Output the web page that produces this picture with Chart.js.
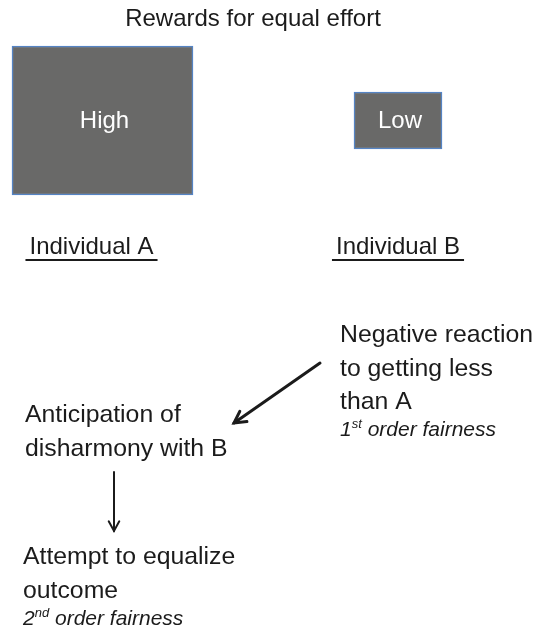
<!DOCTYPE html>
<html>
<head>
<meta charset="utf-8">
<script src="https://cdn.jsdelivr.net/npm/chart.js@4.4.1/dist/chart.umd.min.js"></script>
<style>
  html, body { margin: 0; padding: 0; background: #ffffff; }
  canvas { display: block; }
</style>
</head>
<body>
<canvas id="fairnessChart" width="540" height="630"></canvas>
<script>
// Data
const individuals = ['Individual A', 'Individual B'];
const rewardLabels = ['High', 'Low'];
const rewardSizes = [149, 57];
const chartTitle = 'Rewards for equal effort';
const reactionLines = ['Negative reaction', 'to getting less', 'than A'];
const anticipationLines = ['Anticipation of', 'disharmony with B'];
const attemptLines = ['Attempt to equalize', 'outcome'];
const fairnessNotes = [['1', 'st', ' order fairness'], ['2', 'nd', ' order fairness']];

// Layout (scale units = canvas pixels)
const boxCenters = [102.5, 398];
const boxWidths = [181, 88];
const boxLevel = 120.5;
const labelNudge = [-11, 0];
const FONT = '"Liberation Sans", Arial, Helvetica, sans-serif';
const FLOW_FONT = '24.8px ' + FONT;
const INK = '#1b1b1b';

const datasets = individuals.map(function (name, i) {
    return {
        label: name,
        data: [{ x: boxCenters[i], y: [boxLevel - rewardSizes[i] / 2, boxLevel + rewardSizes[i] / 2] }],
        backgroundColor: '#696968',
        borderColor: '#5584c4',
        borderWidth: 1.5,
        borderSkipped: false,
        barThickness: boxWidths[i],
        grouped: false
    };
});

function textAt(ctx, chart, str, x, y, font, align) {
    const sx = chart.scales.x, sy = chart.scales.y;
    ctx.font = font;
    ctx.textAlign = align || 'left';
    ctx.textBaseline = 'alphabetic';
    ctx.fillText(str, sx.getPixelForValue(x), sy.getPixelForValue(y));
}

function noteAt(ctx, chart, parts, x, y) {
    let px = chart.scales.x.getPixelForValue(x);
    const py = chart.scales.y.getPixelForValue(y);
    ctx.textAlign = 'left';
    ctx.textBaseline = 'alphabetic';
    ctx.font = 'italic 21px ' + FONT;
    ctx.fillText(parts[0], px, py);
    px += ctx.measureText(parts[0]).width;
    ctx.font = 'italic 13px ' + FONT;
    ctx.fillText(parts[1], px, py - 8);
    px += ctx.measureText(parts[1]).width;
    ctx.font = 'italic 21px ' + FONT;
    ctx.fillText(parts[2], px, py);
}

function arrow(ctx, chart, x1, y1, x2, y2, width, head) {
    const sx = chart.scales.x, sy = chart.scales.y;
    const ax = sx.getPixelForValue(x1), ay = sy.getPixelForValue(y1);
    const bx = sx.getPixelForValue(x2), by = sy.getPixelForValue(y2);
    const ang = Math.atan2(by - ay, bx - ax);
    ctx.strokeStyle = INK;
    ctx.lineWidth = width;
    ctx.lineCap = 'round';
    ctx.lineJoin = 'miter';
    ctx.beginPath();
    ctx.moveTo(ax, ay);
    ctx.lineTo(bx, by);
    ctx.stroke();
    ctx.beginPath();
    ctx.moveTo(bx - head * Math.cos(ang - 0.5), by - head * Math.sin(ang - 0.5));
    ctx.lineTo(bx, by);
    ctx.lineTo(bx - head * Math.cos(ang + 0.5), by - head * Math.sin(ang + 0.5));
    ctx.stroke();
}

const diagramText = {
    id: 'diagramText',
    afterDatasetsDraw(chart) {
        const ctx = chart.ctx;
        const sx = chart.scales.x;
        ctx.save();
        ctx.fillStyle = INK;
        textAt(ctx, chart, chartTitle, 253, 26, '24px ' + FONT, 'center');

        // labels inside the boxes
        chart.data.datasets.forEach(function (ds, i) {
            const bar = chart.getDatasetMeta(i).data[0];
            ctx.fillStyle = '#ffffff';
            ctx.font = '24px ' + FONT;
            ctx.textAlign = 'center';
            ctx.textBaseline = 'middle';
            ctx.fillText(rewardLabels[i], bar.x + 2, (bar.y + bar.base) / 2 + 1);
        });

        // individual names, underlined
        ctx.fillStyle = INK;
        individuals.forEach(function (name, i) {
            const cx = boxCenters[i] + labelNudge[i];
            textAt(ctx, chart, name, cx, 254, '24px ' + FONT, 'center');
            const w = ctx.measureText(name).width;
            const y = chart.scales.y.getPixelForValue(260);
            ctx.strokeStyle = INK;
            ctx.lineWidth = 2;
            ctx.beginPath();
            ctx.moveTo(sx.getPixelForValue(cx) - w / 2 - 4, y);
            ctx.lineTo(sx.getPixelForValue(cx) + w / 2 + 4, y);
            ctx.stroke();
        });

        reactionLines.forEach(function (line, i) {
            textAt(ctx, chart, line, 340, 342 + i * 33.5, FLOW_FONT);
        });
        noteAt(ctx, chart, fairnessNotes[0], 340, 436);

        anticipationLines.forEach(function (line, i) {
            textAt(ctx, chart, line, 25, 422 + i * 34, FLOW_FONT);
        });

        attemptLines.forEach(function (line, i) {
            textAt(ctx, chart, line, 23, 564 + i * 34, FLOW_FONT);
        });
        noteAt(ctx, chart, fairnessNotes[1], 23, 625);

        arrow(ctx, chart, 320, 363, 234, 423, 3, 13);
        arrow(ctx, chart, 114, 472, 114, 531, 2, 11);
        ctx.restore();
    }
};

new Chart(document.getElementById('fairnessChart').getContext('2d'), {
    type: 'bar',
    data: { datasets: datasets },
    options: {
        responsive: false,
        animation: false,
        layout: { padding: 0 },
        scales: {
            x: { type: 'linear', min: 0, max: 540, offset: false, display: false },
            y: { type: 'linear', min: 0, max: 630, reverse: true, display: false }
        },
        plugins: {
            legend: { display: false },
            title: { display: false },
            tooltip: { enabled: false }
        }
    },
    plugins: [diagramText]
});
</script>
</body>
</html>
